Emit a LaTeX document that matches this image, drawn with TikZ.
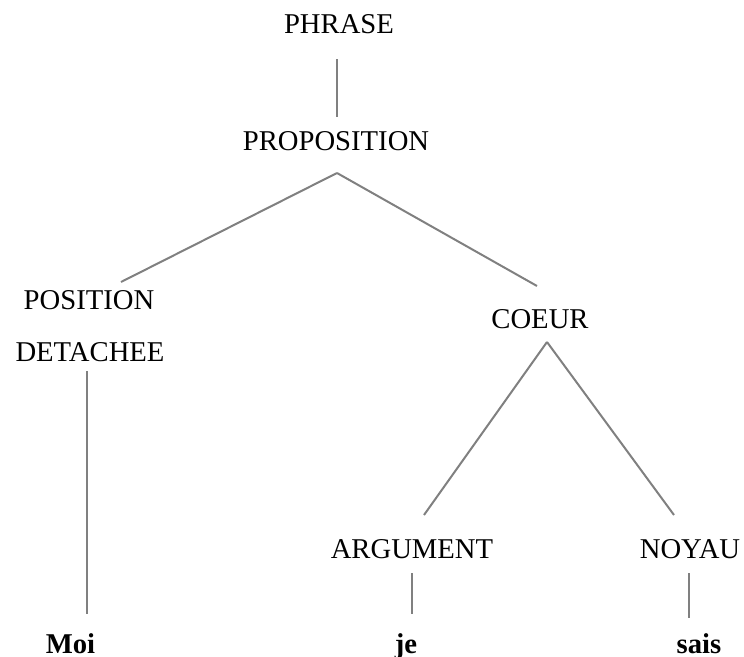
\documentclass[tikz,border=0pt]{standalone}
\usepackage{fontspec}
\setmainfont{Liberation Serif}
\begin{document}
\begin{tikzpicture}[x=0.75pt,y=-0.75pt,
  cat/.style={inner sep=0pt,anchor=base,font=\fontsize{21.5}{26}\selectfont},
  word/.style={cat,font=\fontsize{21.5}{26}\selectfont\bfseries},
  branch/.style={draw=gray,line width=1.5pt}]
\useasboundingbox (0,0) rectangle (744,657);

% Categories
\node[cat] (phrase) at (339,33) {PHRASE};
\node[cat] (prop) at (336,150) {PROPOSITION};
\node[cat] (pos) at (89,309) {POSITION};
\node[cat] (det) at (90,361) {DETACHEE};
\node[cat] (coeur) at (540,328) {COEUR};
\node[cat] (arg) at (412,558) {ARGUMENT};
\node[cat] (noyau) at (690,558) {NOYAU};

% Words
\node[word] (moi) at (70.5,653) {Moi};
\node[word] (je) at (406,653) {je};
\node[word] (sais) at (699,653) {sais};

% Branches
\draw[branch] ([shift={(-2,26)}]phrase.base) -- ([shift={(1,-33)}]prop.base);
\draw[branch] ([shift={(1,23)}]prop.base) -- ([shift={(32,-27)}]pos.base);
\draw[branch] ([shift={(1,23)}]prop.base) -- ([shift={(-3,-42)}]coeur.base);
\draw[branch] ([shift={(-3,10)}]det.base) -- ([shift={(16.5,-39)}]moi.base);
\draw[branch] ([shift={(7,14)}]coeur.base) -- ([shift={(12,-43)}]arg.base);
\draw[branch] ([shift={(7,14)}]coeur.base) -- ([shift={(-16,-43)}]noyau.base);
\draw[branch] ([shift={(0,15)}]arg.base) -- ([shift={(6,-39)}]je.base);
\draw[branch] ([shift={(-1,15)}]noyau.base) -- ([shift={(-10,-35)}]sais.base);

\end{tikzpicture}
\end{document}
